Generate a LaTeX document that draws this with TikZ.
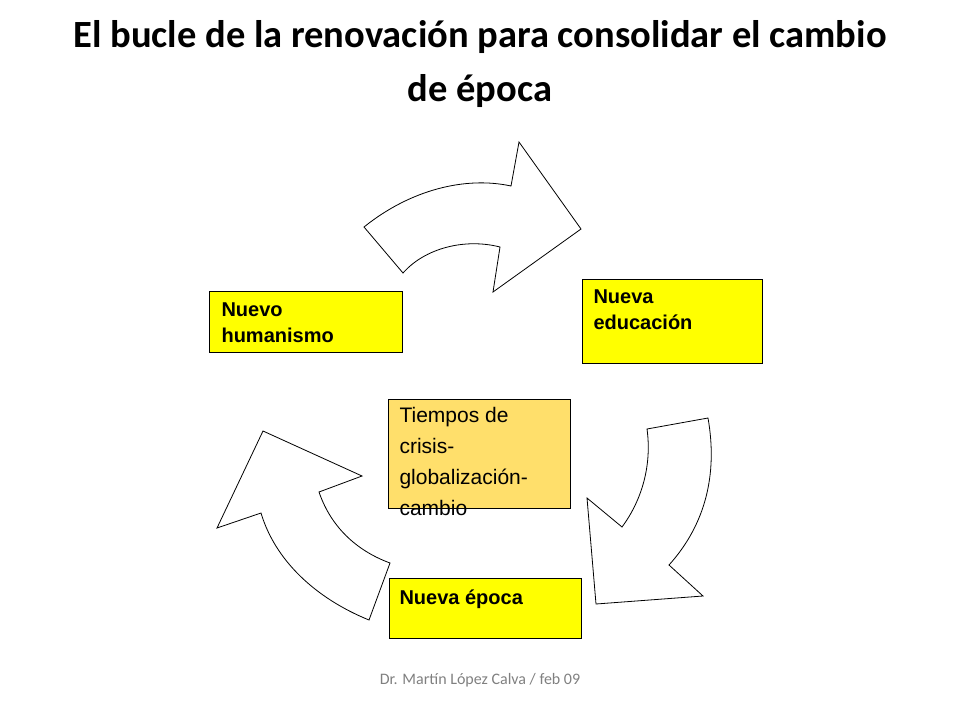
\documentclass[tikz,border=0pt]{standalone}
\usepackage{fontspec}
\setmainfont{Liberation Sans}
\newfontfamily\calfont{Carlito}
\begin{document}
\begin{tikzpicture}[x=1pt,y=-1pt,
  blk/.style={draw=black,fill=white,line width=0.8pt,line join=miter},
  ybox/.style={draw=black,fill={rgb,255:red,255;green,255;blue,0},line width=0.8pt,anchor=north west,inner sep=0pt},
  lbl/.style={anchor=north west,align=left,font=\fontsize{20}{26}\selectfont\bfseries}]
\useasboundingbox (0,0) rectangle (960,720);
\node[font=\calfont\fontsize{38.5}{54}\selectfont\bfseries,align=center] (title) at (480,64) {El bucle de la renovación para consolidar el cambio\\de época};
% arrows
\draw[blk] (364,227) .. controls (410,190) and (465,176) .. (511,186) -- (519,142) -- (581,229) -- (493,292) -- (500,247) .. controls (465,238) and (425,248) .. (403,273) -- cycle;
\draw[blk] (647,429) -- (708,418) .. controls (718,475) and (705,525) .. (669,565) -- (703,596) -- (596,604) -- (587,498) -- (622,527) .. controls (642,500) and (652,465) .. (647,429) -- cycle;
\draw[blk] (263,431) -- (362,476) -- (319,492) .. controls (332,530) and (360,552) .. (390,563) -- (369,620) .. controls (315,598) and (275,560) .. (261,513) -- (217,528) -- cycle;
% boxes
\node[ybox,minimum width=193,minimum height=61] (nh) at (209,291) {};
\node[lbl] (nht) at (218,299) {Nuevo\\humanismo};
\node[ybox,minimum width=180,minimum height=84] (ne) at (582,279) {};
\node[lbl] (net) at (590,286) {Nueva\\educación};
\node[ybox,fill={rgb,255:red,255;green,223;blue,107},minimum width=182,minimum height=109] (tc) at (388,399) {};
\node[anchor=north west,align=left,font=\fontsize{21}{31}\selectfont] (tct) at (396,404) {Tiempos de\\crisis-\\globalización-\\cambio};
\node[ybox,minimum width=192,minimum height=60] (nep) at (389,578) {};
\node[lbl] (nept) at (396,586) {Nueva época};
\node[font=\calfont\fontsize{16}{19}\selectfont,text=gray] (foot) at (480,680) {Dr. Martín López Calva / feb 09};
\end{tikzpicture}
\end{document}
